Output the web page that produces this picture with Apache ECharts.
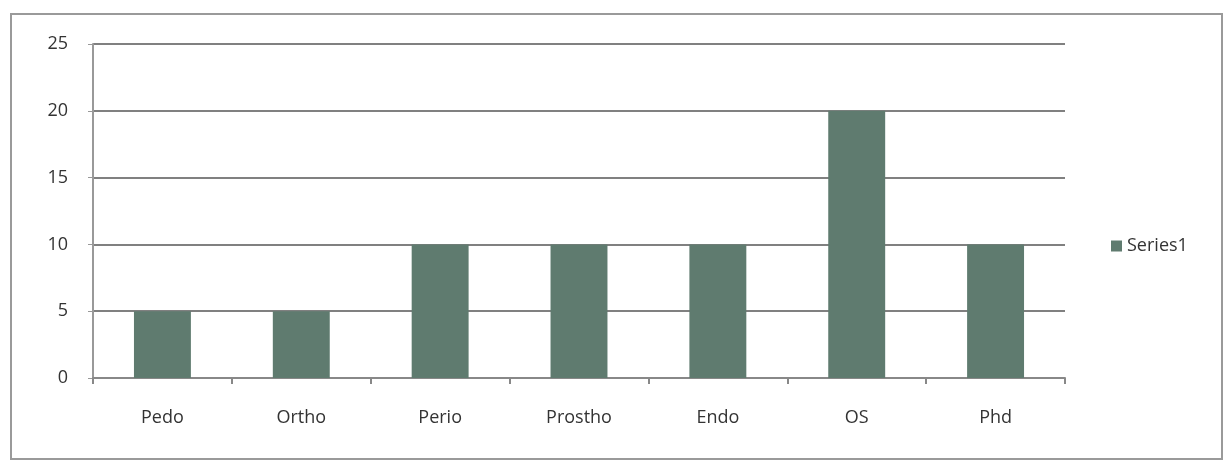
<!DOCTYPE html>
<html><head><meta charset="utf-8">
<script src="https://cdn.jsdelivr.net/npm/echarts@6/dist/echarts.min.js"></script>
<style>html,body{margin:0;padding:0;background:#fff}#c{width:1230px;height:466px}
#frame{position:absolute;left:10px;top:13px;width:1213px;height:447px;border:2px solid #9a9a9a;box-sizing:border-box;pointer-events:none}</style>
</head><body><div id="c"></div><div id="frame"></div>
<script>
const categories = ['Pedo','Ortho','Perio','Prostho','Endo','OS','Phd'];
const series1 = [5,5,10,10,10,20,10];
const yTicks = {min:0,max:25,interval:5};
const chart = echarts.init(document.getElementById('c'));
chart.setOption({
  animation:false,
  backgroundColor:'#fff',
  grid:{left:93,right:165,top:44,bottom:88,containLabel:false},
  legend:{orient:'vertical',left:1106,top:232,itemWidth:11,itemHeight:11,itemGap:6,icon:'rect',
    textStyle:{fontFamily:'Open Sans',fontSize:18,color:'#333'},data:['Series1']},
  xAxis:{type:'category',data:categories,
    axisLine:{lineStyle:{color:'#888',width:2}},
    axisTick:{show:true,alignWithLabel:false,length:6,lineStyle:{color:'#888',width:2}},
    axisLabel:{fontFamily:'Open Sans',fontSize:18,color:'#333',margin:31}},
  yAxis:{type:'value',min:yTicks.min,max:yTicks.max,interval:yTicks.interval,
    axisLine:{show:true,lineStyle:{color:'#999',width:2}},
    axisTick:{show:true,length:5,lineStyle:{color:'#999'}},
    axisLabel:{fontFamily:'Open Sans',fontSize:18,color:'#333',margin:25},
    splitLine:{show:true,lineStyle:{color:'#808080',width:2}}},
  series:[{name:'Series1',type:'bar',data:series1,barWidth:'41%',
    itemStyle:{color:'#5f7b6f'}}]
});
</script></body></html>
